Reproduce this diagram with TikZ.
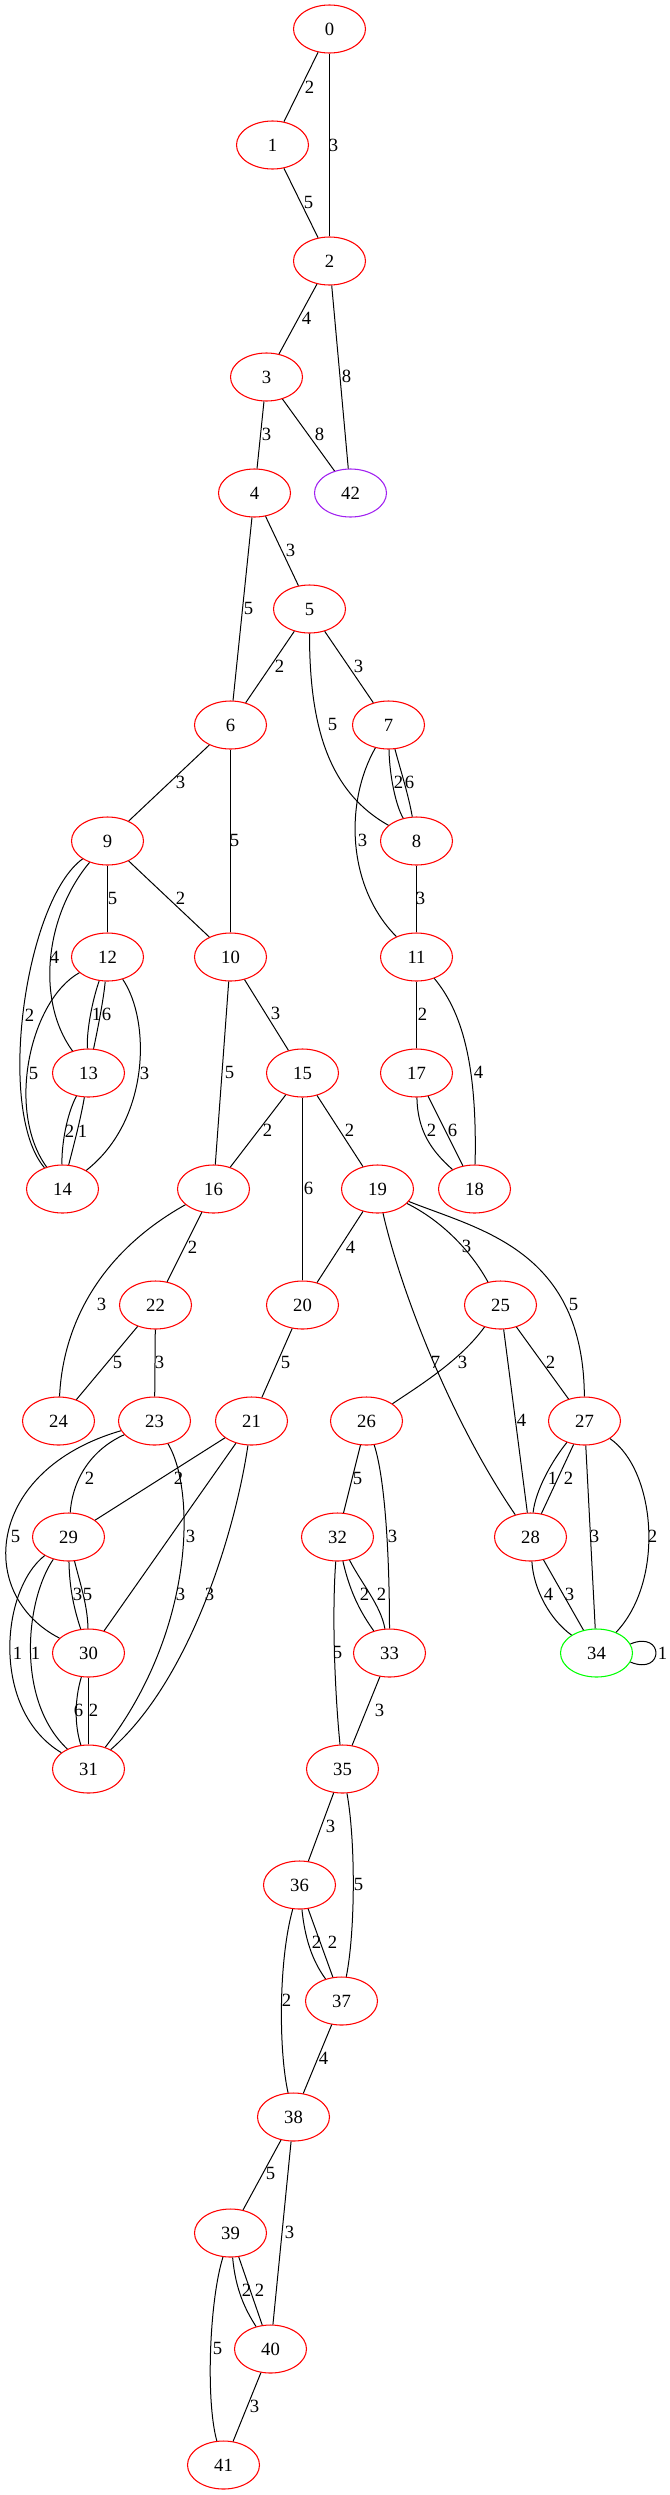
\documentclass[tikz,border=0pt]{standalone}
\usepackage{fontspec}
\setmainfont{Liberation Serif}
\usetikzlibrary{shapes.geometric}
\definecolor{vpurple}{HTML}{A020F0}
\definecolor{vgreen}{HTML}{00FF00}
\tikzstyle{every picture}+=[x=0.75pt, y=-0.75pt]
\tikzstyle{vertex}=[draw=red, ellipse, minimum width=54pt, minimum height=36pt, inner sep=0pt, line width=0.8pt, font=\fontsize{14}{16}\selectfont]
\tikzstyle{wt}=[inner sep=0pt, font=\fontsize{14}{16}\selectfont]
\tikzstyle{link}=[line width=0.75pt]
\begin{document}
\begin{tikzpicture}
	\useasboundingbox (0,0) rectangle (670,2495) ;
	\begin{scope}[xshift=0.375pt]
	\foreach \n/\x/\y in {0/329/29, 1/272/145, 2/329/261, 3/266/377, 4/254/493,
		5/309/609, 6/230/725, 7/388/725, 8/416/841, 9/107/841, 10/230/957,
		11/416/957, 12/107/957, 13/88/1073, 15/302/1073, 17/416/1073,
		14/62/1189, 16/213/1189, 19/377/1189, 18/474/1189, 22/155/1305,
		20/302/1305, 25/500/1305, 24/58/1421, 23/154/1421, 21/251/1421,
		26/366/1421, 27/584/1421, 29/68/1537, 32/337/1537, 28/530/1537,
		30/88/1653, 33/389/1653, 31/88/1769, 35/342/1769, 36/299/1885,
		37/341/2001, 38/293/2117, 39/230/2233, 40/270/2349, 41/223/2465}
		\node[vertex] (n\n) at (\x,\y) {\n} ;
	\node[vertex, draw=vpurple] (n42) at (350,493) {42} ;
	\node[vertex, draw=vgreen] (n34) at (596,1653) {34} ;
	\foreach \na/\nb/\w/\lx/\ly in {0/1/2/309/87, 0/2/3/333/145, 1/2/5/308/202,
		2/3/4/306/318, 2/42/8/346/376, 3/4/3/266/434, 3/42/8/319/434,
		4/5/3/290/550, 4/6/5/248/608, 5/6/2/279/666, 5/7/3/358/666,
		6/9/3/180/782, 6/10/5/234/840, 8/11/3/420/898, 9/12/5/112/898,
		9/10/2/180/898, 10/15/3/275/1013, 10/16/5/229/1072, 11/17/2/422/1014,
		15/16/2/267/1130, 15/20/6/308/1188, 15/19/2/349/1130, 17/18/6/452/1130,
		16/22/2/192/1247, 19/20/4/350/1247, 22/24/5/117/1362, 22/23/3/159/1362,
		20/21/5/285/1362, 25/27/2/550/1362, 25/28/4/521/1420, 26/32/5/357/1478,
		21/29/2/178/1478, 21/30/3/190/1536, 27/28/2/568/1478, 27/34/3/594/1536,
		28/34/3/569/1594, 30/31/2/93/1710, 33/35/3/379/1710, 35/36/3/330/1826,
		36/37/2/332/1942, 37/38/4/323/2058, 38/39/5/270/2173, 38/40/3/289/2232,
		39/40/2/259/2290, 40/41/3/254/2406}
		\draw[link] (n\na) -- (n\nb) node[wt] at (\lx,\ly) {\w} ;
	\foreach \na/\nb/\cx/\cy/\dx/\dy/\w/\lx/\ly in {5/8/309/720/325/790/5/332/724,
		7/8/389/775/395/805/2/398/782, 7/8/400/770/408/795/6/409/782,
		7/11/345/800/345/885/3/362/840, 9/13/45/915/35/1000/4/54/957,
		9/14/25/900/-5/1110/2/29/1015, 12/13/92/1000/86/1030/1/96/1014,
		12/13/103/1000/97/1030/6/106/1014, 12/14/30/1000/5/1110/5/33/1073,
		12/14/150/1020/150/1120/3/144/1073, 13/14/66/1115/61/1145/2/69/1131,
		13/14/80/1120/72/1150/1/82/1131, 11/18/460/1010/477/1060/4/478/1072,
		17/18/417/1130/430/1150/2/431/1130, 16/24/95/1255/62/1330/3/101/1304,
		19/25/440/1220/470/1250/3/466/1246, 19/27/480/1230/583/1250/5/573/1304,
		19/28/400/1290/450/1420/7/435/1362, 25/26/460/1360/420/1385/3/462/1362,
		26/33/385/1480/389/1560/3/392/1536, 23/29/90/1450/72/1480/2/89/1478,
		23/30/-15/1470/-25/1595/5/15/1536, 23/31/195/1490/195/1630/3/180/1594,
		21/31/235/1530/190/1680/3/209/1594, 29/30/69/1590/74/1610/3/77/1594,
		29/30/80/1585/87/1605/5/87/1594, 29/31/0/1590/-10/1710/1/17/1653,
		29/31/25/1600/15/1700/1/35/1653, 30/31/74/1700/74/1725/6/78/1710,
		27/28/552/1460/535/1490/1/552/1478, 27/34/655/1470/665/1580/2/652/1536,
		28/34/533/1590/550/1620/4/548/1594, 32/33/350/1595/362/1615/2/364/1594,
		32/33/362/1585/380/1605/2/381/1594, 32/35/331/1620/335/1700/5/337/1652,
		35/37/355/1840/355/1930/5/358/1884, 36/37/305/1945/315/1965/2/316/1942,
		36/38/278/1960/278/2050/2/286/2000, 39/40/235/2290/245/2310/2/246/2290,
		39/41/209/2300/205/2400/5/217/2348}
		\draw[link] (n\na) .. controls (\cx,\cy) and (\dx,\dy) .. (n\nb) node[wt] at (\lx,\ly) {\w} ;
	\draw[link] (n34.15) .. controls (664,1630) and (664,1676) .. (n34.-15) node[wt] at (662,1653) {1} ;
	\end{scope}
\end{tikzpicture}
\end{document}
